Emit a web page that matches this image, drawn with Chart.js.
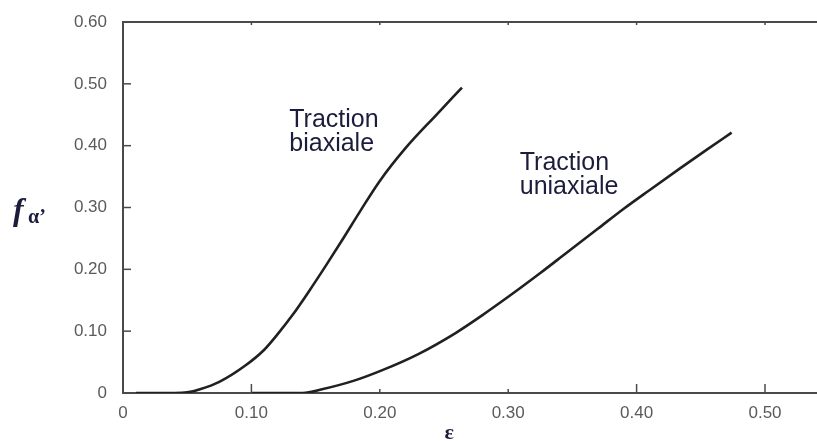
<!DOCTYPE html>
<html>
<head>
<meta charset="utf-8">
<script src="https://cdn.jsdelivr.net/npm/chart.js@4/dist/chart.umd.min.js"></script>
<style>
  html, body { margin: 0; padding: 0; background: #ffffff; }
  #wrap { width: 817px; height: 441px; }
</style>
</head>
<body>
<div id="wrap"><canvas id="c" width="817" height="441"></canvas></div>
<script>
// Strain values (ε) and transformed fraction f_α' for each loading mode
const biaxEps = [0.01, 0.04, 0.05, 0.06, 0.075, 0.095, 0.11, 0.12, 0.132, 0.145, 0.158, 0.17, 0.185, 0.20, 0.22, 0.245, 0.264];
const biaxF   = [0, 0, 0.001, 0.006, 0.018, 0.044, 0.070, 0.094, 0.126, 0.165, 0.206, 0.245, 0.295, 0.343, 0.396, 0.452, 0.494];

const uniEps = [0.10, 0.14, 0.155, 0.18, 0.202, 0.23, 0.259, 0.28, 0.303, 0.325, 0.345, 0.37, 0.39, 0.41, 0.433, 0.455, 0.474];
const uniF   = [0, 0, 0.006, 0.020, 0.037, 0.063, 0.097, 0.126, 0.160, 0.194, 0.226, 0.266, 0.298, 0.328, 0.362, 0.394, 0.421];

// Axis ticks and their printed labels
const xTicks = [0, 0.1, 0.2, 0.3, 0.4, 0.5];
const xTickLabels = ['0', '0.10', '0.20', '0.30', '0.40', '0.50'];
const yTicks = [0, 0.1, 0.2, 0.3, 0.4, 0.5, 0.6];
const yTickLabels = ['0', '0.10', '0.20', '0.30', '0.40', '0.50', '0.60'];

// Curve labels: [line1, line2, strain, fraction] anchoring the text block
const curveNotes = [
  ['Traction', 'biaxiale', 0.1295, 0.43],
  ['Traction', 'uniaxiale', 0.309, 0.36]
];

const INK = '#202020';
const AXIS = '#4a4a4a';
const TEXT = '#1c1c3c';
const TICKTXT = '#5a5a5a';

const toPts = (xs, ys) => xs.map((x, i) => ({ x: x, y: ys[i] }));

// Inward tick marks, top frame line, axis titles and curve notes
const decorations = {
  id: 'decorations',
  afterDraw(chart) {
    const ctx = chart.ctx;
    const xs = chart.scales.x, ys = chart.scales.y;
    const a = chart.chartArea;
    ctx.save();
    ctx.strokeStyle = AXIS;
    ctx.lineWidth = 2;
    // top frame line
    ctx.beginPath();
    ctx.moveTo(a.left, a.top);
    ctx.lineTo(a.right, a.top);
    ctx.stroke();
    ctx.lineWidth = 1.5;
    xTicks.forEach(v => {
      if (v === 0) return;
      const px = xs.getPixelForValue(v);
      const len = (v === 0.2 || v === 0.3) ? 4 : 9;
      ctx.beginPath();
      ctx.moveTo(px, a.bottom);
      ctx.lineTo(px, a.bottom - len);
      ctx.stroke();
      ctx.beginPath();
      ctx.moveTo(px, a.top);
      ctx.lineTo(px, a.top + 3);
      ctx.stroke();
    });
    yTicks.forEach(v => {
      if (v === 0 || v === 0.6) return;
      const py = ys.getPixelForValue(v);
      ctx.beginPath();
      ctx.moveTo(a.left, py);
      ctx.lineTo(a.left + 8, py);
      ctx.stroke();
    });

    // curve notes
    ctx.fillStyle = TEXT;
    ctx.font = '25px "Liberation Sans", Arial, sans-serif';
    ctx.textAlign = 'left';
    ctx.textBaseline = 'alphabetic';
    curveNotes.forEach(n => {
      const px = xs.getPixelForValue(n[2]);
      const py = ys.getPixelForValue(n[3]);
      ctx.fillText(n[0], px, py);
      ctx.fillText(n[1], px, py + 24);
    });

    // axis titles
    ctx.font = 'bold italic 32px "Liberation Serif", "Times New Roman", serif';
    ctx.textBaseline = 'alphabetic';
    ctx.fillText('f', 13, 220);
    ctx.font = 'bold 20px "Liberation Serif", "Times New Roman", serif';
    ctx.fillText('α\u2019', 28, 223);
    ctx.font = 'bold 22px "Liberation Serif", "Times New Roman", serif';
    ctx.textAlign = 'center';
    ctx.textBaseline = 'middle';
    ctx.fillText('ε', xs.getPixelForValue(0.254), 433);
    ctx.restore();
  }
};

new Chart(document.getElementById('c'), {
  type: 'line',
  data: {
    datasets: [
      { label: 'Traction biaxiale', data: toPts(biaxEps, biaxF) },
      { label: 'Traction uniaxiale', data: toPts(uniEps, uniF) }
    ]
  },
  options: {
    responsive: false,
    animation: false,
    events: [],
    layout: { padding: { top: 22, right: 0, bottom: 0, left: 0 } },
    elements: {
      point: { radius: 0 },
      line: { borderColor: INK, borderWidth: 2.6, tension: 0.4, cubicInterpolationMode: 'monotone', fill: false }
    },
    plugins: { legend: { display: false }, tooltip: { enabled: false } },
    scales: {
      x: {
        type: 'linear',
        min: 0,
        max: 0.5405,
        afterBuildTicks: s => { s.ticks = xTicks.map(v => ({ value: v })); },
        afterFit: s => { s.height = 48; },
        grid: { display: false },
        border: { display: true, color: AXIS, width: 2 },
        ticks: {
          autoSkip: false,
          maxRotation: 0,
          padding: 2,
          color: TICKTXT,
          font: { family: '"Liberation Sans", Arial, sans-serif', size: 17 },
          callback: (v, i) => xTickLabels[i]
        }
      },
      y: {
        type: 'linear',
        min: 0,
        max: 0.6,
        afterBuildTicks: s => { s.ticks = yTicks.map(v => ({ value: v })); },
        afterFit: s => { s.width = 123; },
        grid: { display: false },
        border: { display: true, color: AXIS, width: 2 },
        ticks: {
          autoSkip: false,
          padding: 8,
          color: TICKTXT,
          font: { family: '"Liberation Sans", Arial, sans-serif', size: 17 },
          callback: (v, i) => yTickLabels[i]
        }
      }
    }
  },
  plugins: [decorations]
});
</script>
</body>
</html>
